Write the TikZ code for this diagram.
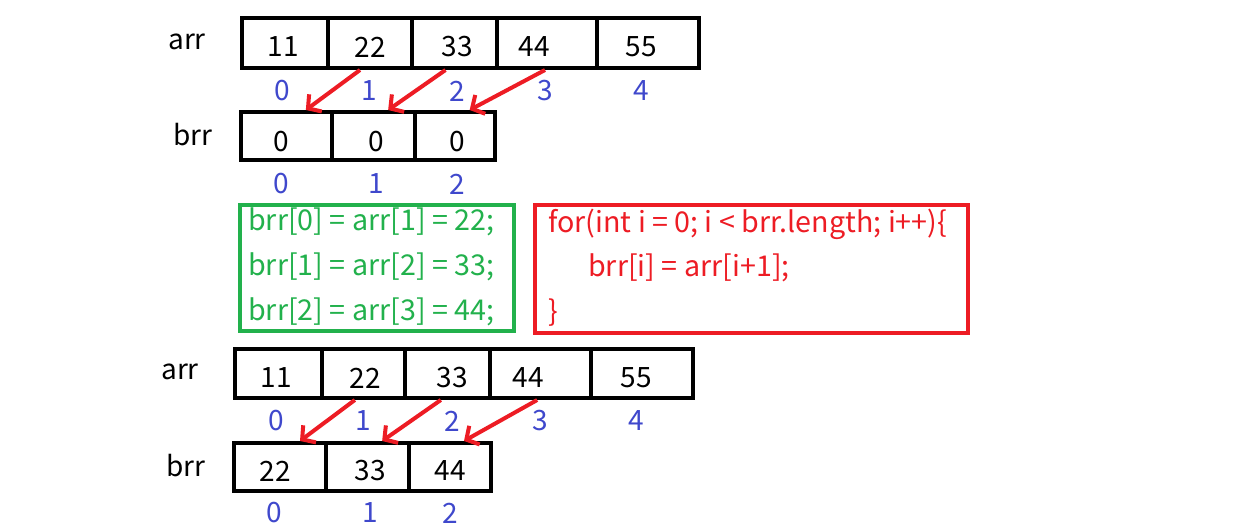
\documentclass[tikz,border=0pt]{standalone}
\usepackage{fontspec}
\setmainfont{Noto Sans CJK SC}
\usetikzlibrary{arrows.meta}
\definecolor{cgreen}{RGB}{34,177,76}
\definecolor{cred}{RGB}{237,28,36}
\definecolor{cblue}{RGB}{63,72,204}
\tikzset{
  cell/.style={draw=black, line width=3pt, rectangle, inner sep=0pt, minimum height=#1},
  val/.style={font=\fontsize{21}{24}\selectfont, inner sep=0pt},
  idx/.style={font=\fontsize{21}{24}\selectfont, text=cblue, inner sep=0pt},
  lbl/.style={font=\fontsize{21}{24}\selectfont, inner sep=0pt},
  mv/.style={draw=cred, line width=3pt, -{Straight Barb[length=7pt,width=16pt,line width=3pt]}},
  code/.style={font=\fontsize{21.5}{24}\selectfont, inner sep=0pt, anchor=west},
  gbox/.style={draw=cgreen, line width=3pt},
  rbox/.style={draw=cred, line width=3pt}
}
\begin{document}
\begin{tikzpicture}[x=0.75pt,y=-0.75pt]
\useasboundingbox (0,0) rectangle (1258,524);
% top arr
\node[lbl] (arrA) at (187,42) {arr};
\node[cell=37.5pt, minimum width=64.5pt] (a0) at (285,43) {};
\node[cell=37.5pt, minimum width=63pt] (a1) at (370,43) {};
\node[cell=37.5pt, minimum width=63.75pt] (a2) at (454.5,43) {};
\node[cell=37.5pt, minimum width=75pt] (a3) at (547,43) {};
\node[cell=37.5pt, minimum width=76.5pt] (a4) at (648,43) {};
\node[val] (va0) at (283,47) {11};
\node[val] (va1) at (370,47) {22};
\node[val] (va2) at (457,47) {33};
\node[val] (va3) at (534,47) {44};
\node[val] (va4) at (641,47) {55};
\node[idx] (ia0) at (282,91) {0};
\node[idx] (ia1) at (369,91) {1};
\node[idx] (ia2) at (457,91) {2};
\node[idx] (ia3) at (545,91) {3};
\node[idx] (ia4) at (641,91) {4};
% top brr
\node[lbl] (brrA) at (193,135) {brr};
\node[cell=36pt, minimum width=68.25pt] (b0) at (286.5,136) {};
\node[cell=36pt, minimum width=62.25pt] (b1) at (373.5,136) {};
\node[cell=36pt, minimum width=60pt] (b2) at (455,136) {};
\node[val] (vb0) at (281,142) {0};
\node[val] (vb1) at (376,142) {0};
\node[val] (vb2) at (457,142) {0};
\node[idx] (ib0) at (281,184) {0};
\node[idx] (ib1) at (376,184) {1};
\node[idx] (ib2) at (457,184) {2};
% arrows top
\draw[mv] ([xshift=-7.5pt]a1.south) -- ([xshift=14.5pt]b0.north);
\draw[mv] ([xshift=-6.75pt]a2.south) -- ([xshift=11pt]b1.north);
\draw[mv] ([xshift=-1.5pt]a3.south) -- ([xshift=11pt]b2.north);
% green box
\draw[gbox] (240,205) rectangle (514,331);
\node[code, text=cgreen] (g1) at (248,222) {brr[0] = arr[1] = 22;};
\node[code, text=cgreen] (g2) at (248,267) {brr[1] = arr[2] = 33;};
\node[code, text=cgreen] (g3) at (248,312) {brr[2] = arr[3] = 44;};
% red box
\draw[rbox] (535,205) rectangle (968,333);
\node[code, text=cred] (r1) at (548,224) {for(int i = 0; i < brr.length; i++)\{};
\node[code, text=cred] (r2) at (588,268) {brr[i] = arr[i+1];};
\node[code, text=cred] (r3) at (548,313) {\}};
% bottom arr
\node[lbl] (arrB) at (180,372) {arr};
\node[cell=36.75pt, minimum width=65.25pt] (c0) at (278.5,373.5) {};
\node[cell=36.75pt, minimum width=62.25pt] (c1) at (363.5,373.5) {};
\node[cell=36.75pt, minimum width=63.75pt] (c2) at (447.5,373.5) {};
\node[cell=36.75pt, minimum width=75.75pt] (c3) at (540.5,373.5) {};
\node[cell=36.75pt, minimum width=76.5pt] (c4) at (642,373.5) {};
\node[val] (vc0) at (276,378) {11};
\node[val] (vc1) at (365,378) {22};
\node[val] (vc2) at (452,378) {33};
\node[val] (vc3) at (528,378) {44};
\node[val] (vc4) at (636,378) {55};
\node[idx] (ic0) at (276,421) {0};
\node[idx] (ic1) at (363,421) {1};
\node[idx] (ic2) at (452,421) {2};
\node[idx] (ic3) at (540,421) {3};
\node[idx] (ic4) at (636,421) {4};
% bottom brr
\node[lbl] (brrB) at (186,466) {brr};
\node[cell=36pt, minimum width=69pt] (d0) at (280,467) {};
\node[cell=36pt, minimum width=62.25pt] (d1) at (367.5,467) {};
\node[cell=36pt, minimum width=61.5pt] (d2) at (450,467) {};
\node[val] (vd0) at (275,471) {22};
\node[val] (vd1) at (370,471) {33};
\node[val] (vd2) at (450,471) {44};
\node[idx] (id0) at (274,513) {0};
\node[idx] (id1) at (370,513) {1};
\node[idx] (id2) at (450,513) {2};
% arrows bottom
\draw[mv] ([xshift=-6.5pt]c1.south) -- ([xshift=15pt]d0.north);
\draw[mv] ([xshift=-5pt]c2.south) -- ([xshift=11pt]d1.north);
\draw[mv] ([xshift=-2.5pt]c3.south) -- ([xshift=10.5pt]d2.north);
\end{tikzpicture}
\end{document}
